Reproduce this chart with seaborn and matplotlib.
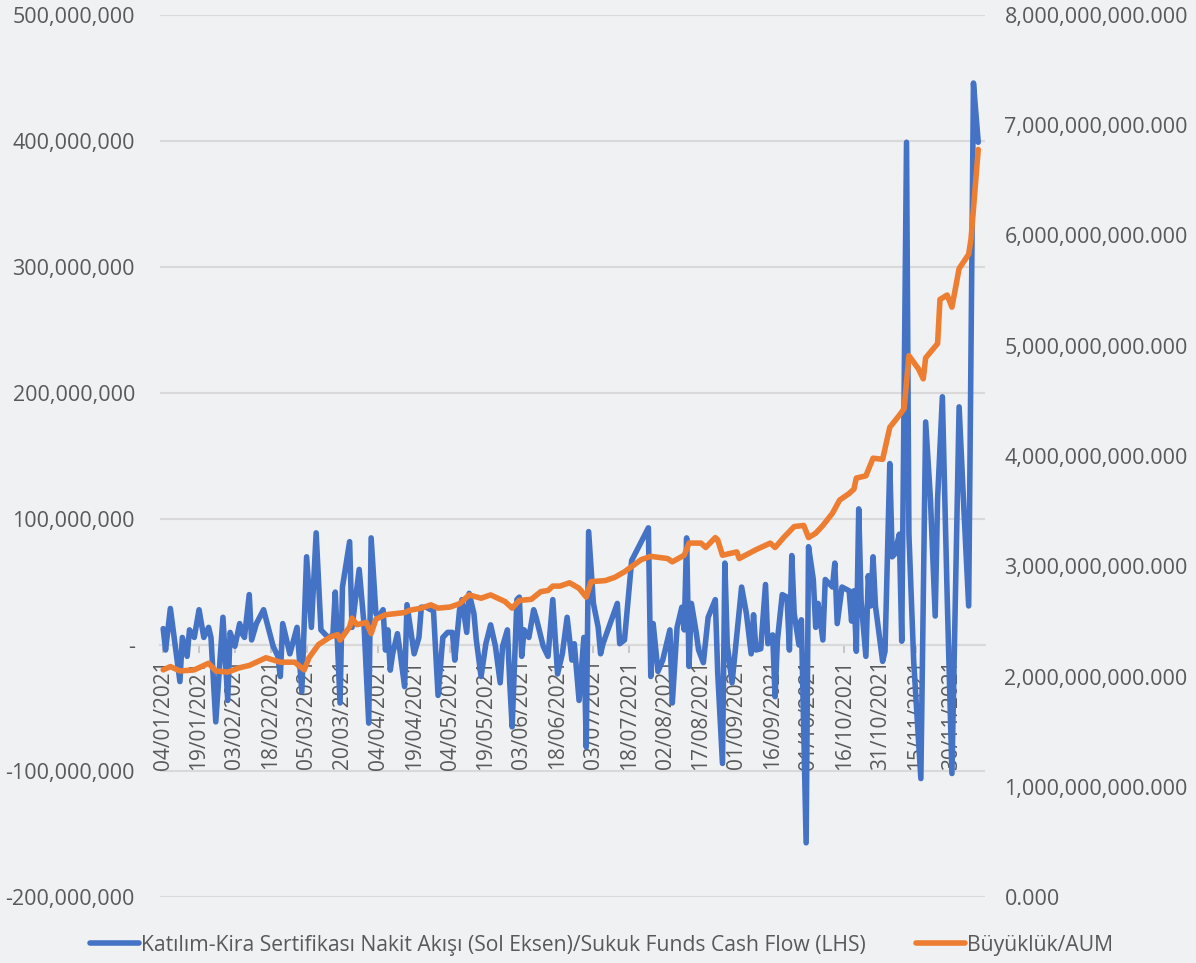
import numpy as np
import pandas as pd
import matplotlib
matplotlib.use('Agg')
import matplotlib.pyplot as plt
import matplotlib.ticker as mticker
import seaborn as sns

# ── data ──────────────────────────────────────────────────────
# cash flow, million TL (left axis)
flow_dates = [
    '2021-01-04', '2021-01-05', '2021-01-07', '2021-01-11', '2021-01-12', '2021-01-14', '2021-01-15',
    '2021-01-17', '2021-01-19', '2021-01-21', '2021-01-23', '2021-01-24', '2021-01-26', '2021-01-29',
    '2021-01-31', '2021-02-01', '2021-02-03', '2021-02-05', '2021-02-06', '2021-02-07', '2021-02-09',
    '2021-02-10', '2021-02-12', '2021-02-15', '2021-02-19', '2021-02-21', '2021-02-22', '2021-02-23',
    '2021-02-26', '2021-03-01', '2021-03-03', '2021-03-05', '2021-03-07', '2021-03-09', '2021-03-11',
    '2021-03-14', '2021-03-16', '2021-03-17', '2021-03-19', '2021-03-20', '2021-03-23', '2021-03-24',
    '2021-03-27', '2021-03-29', '2021-03-31', '2021-04-01', '2021-04-03', '2021-04-04', '2021-04-06',
    '2021-04-07', '2021-04-08', '2021-04-09', '2021-04-10', '2021-04-12', '2021-04-13', '2021-04-15',
    '2021-04-16', '2021-04-18', '2021-04-19', '2021-04-21', '2021-04-22', '2021-04-24', '2021-04-26',
    '2021-04-27', '2021-04-29', '2021-05-01', '2021-05-03', '2021-05-05', '2021-05-06', '2021-05-08',
    '2021-05-09', '2021-05-11', '2021-05-12', '2021-05-14', '2021-05-15', '2021-05-17', '2021-05-19',
    '2021-05-21', '2021-05-23', '2021-05-25', '2021-05-26', '2021-05-28', '2021-05-29', '2021-05-30',
    '2021-06-01', '2021-06-02', '2021-06-03', '2021-06-04', '2021-06-05', '2021-06-06', '2021-06-08',
    '2021-06-09', '2021-06-12', '2021-06-14', '2021-06-16', '2021-06-18', '2021-06-20', '2021-06-22',
    '2021-06-24', '2021-06-25', '2021-06-27', '2021-06-29', '2021-06-30', '2021-07-01', '2021-07-03',
    '2021-07-05', '2021-07-06', '2021-07-07', '2021-07-13', '2021-07-14', '2021-07-16', '2021-07-19',
    '2021-07-26', '2021-07-27', '2021-07-28', '2021-07-30', '2021-08-01', '2021-08-04', '2021-08-05',
    '2021-08-07', '2021-08-09', '2021-08-10', '2021-08-11', '2021-08-12', '2021-08-13', '2021-08-15',
    '2021-08-16', '2021-08-18', '2021-08-20', '2021-08-23', '2021-08-24', '2021-08-26', '2021-08-27',
    '2021-08-28', '2021-08-30', '2021-09-03', '2021-09-05', '2021-09-07', '2021-09-08', '2021-09-09',
    '2021-09-11', '2021-09-13', '2021-09-14', '2021-09-16', '2021-09-17', '2021-09-18', '2021-09-20',
    '2021-09-22', '2021-09-23', '2021-09-24', '2021-09-25', '2021-09-27', '2021-09-28', '2021-09-30',
    '2021-10-01', '2021-10-03', '2021-10-04', '2021-10-05', '2021-10-07', '2021-10-08', '2021-10-09',
    '2021-10-11', '2021-10-12', '2021-10-13', '2021-10-15', '2021-10-17', '2021-10-18', '2021-10-19',
    '2021-10-20', '2021-10-21', '2021-10-22', '2021-10-23', '2021-10-25', '2021-10-26', '2021-10-27',
    '2021-10-28', '2021-10-29', '2021-11-01', '2021-11-02', '2021-11-04', '2021-11-05', '2021-11-06',
    '2021-11-08', '2021-11-09', '2021-11-11', '2021-11-12', '2021-11-14', '2021-11-17', '2021-11-19',
    '2021-11-21', '2021-11-23', '2021-11-24', '2021-11-26', '2021-11-28', '2021-11-30', '2021-12-03',
    '2021-12-05', '2021-12-07', '2021-12-09', '2021-12-11',
]
flow_mn = [
    13, -4, 29, -29, 6, -9, 12,
    6, 28, 6, 14, 6, -61, 22,
    -44, 10, -1, 17, 9, 6, 40,
    4, 17, 28, -1, -9, -25, 17,
    -7, 14, -37, 70, 14, 89, 12,
    6, 8, 42, -46, 46, 82, 14,
    60, 17, -62, 85, 25, 22, 28,
    -4, 12, -20, -7, 9, -4, -33,
    32, 6, -7, 6, 30, 30, 28,
    30, -40, 6, 10, 10, -12, 28,
    36, 10, 41, 25, 4, -25, 1,
    16, -1, -30, -1, 12, -30, -65,
    36, 38, -9, 12, 9, 6, 28,
    22, -1, -9, 36, -23, -7, 22,
    -12, 1, -44, 6, -81, 90, 33,
    14, -7, 1, 33, 1, 4, 67,
    93, -25, 17, -21, -12, 12, -46,
    14, 30, 12, 85, -17, 33, 10,
    -4, -14, 22, 36, -22, -94, 65,
    0, -30, 46, 25, -7, 24, -4,
    -3, 48, 1, 8, -41, 4, 40,
    38, -4, 71, 25, 0, 20, -157,
    78, 52, 14, 33, 4, 52, 50,
    46, 65, 17, 46, 44, 43, 19,
    43, -5, 108, 35, -9, 55, 31,
    70, 31, -13, -5, 144, 70, 72,
    88, 3, 399, 88, -13, -106, 177,
    116, 23, 116, 197, 39, -102, 189,
    108, 31, 446, 399,
]

# fund size, billion TL (right axis)
aum_dates = [
    '2021-01-04', '2021-01-07', '2021-01-11', '2021-01-17', '2021-01-23', '2021-01-26', '2021-01-31',
    '2021-02-05', '2021-02-09', '2021-02-16', '2021-02-22', '2021-02-28', '2021-03-04', '2021-03-06',
    '2021-03-10', '2021-03-15', '2021-03-18', '2021-03-19', '2021-03-23', '2021-03-24', '2021-03-26',
    '2021-03-30', '2021-04-01', '2021-04-03', '2021-04-07', '2021-04-15', '2021-04-17', '2021-04-22',
    '2021-04-26', '2021-04-29', '2021-05-04', '2021-05-08', '2021-05-12', '2021-05-17', '2021-05-21',
    '2021-05-27', '2021-05-30', '2021-06-02', '2021-06-07', '2021-06-11', '2021-06-14', '2021-06-16',
    '2021-06-19', '2021-06-23', '2021-06-27', '2021-06-30', '2021-07-02', '2021-07-08', '2021-07-12',
    '2021-07-16', '2021-07-23', '2021-07-27', '2021-08-03', '2021-08-05', '2021-08-10', '2021-08-12',
    '2021-08-17', '2021-08-19', '2021-08-23', '2021-08-24', '2021-08-26', '2021-09-01', '2021-09-02',
    '2021-09-09', '2021-09-15', '2021-09-17', '2021-09-21', '2021-09-25', '2021-09-29', '2021-10-01',
    '2021-10-04', '2021-10-07', '2021-10-11', '2021-10-14', '2021-10-18', '2021-10-20', '2021-10-21',
    '2021-10-25', '2021-10-28', '2021-11-01', '2021-11-04', '2021-11-08', '2021-11-10', '2021-11-12',
    '2021-11-16', '2021-11-18', '2021-11-19', '2021-11-24', '2021-11-25', '2021-11-28', '2021-11-30',
    '2021-12-03', '2021-12-07', '2021-12-08', '2021-12-11',
]
aum_bn = [
    2.06, 2.09, 2.05, 2.06, 2.12, 2.05, 2.04,
    2.08, 2.10, 2.17, 2.13, 2.13, 2.06, 2.17,
    2.29, 2.36, 2.38, 2.33, 2.45, 2.53, 2.47,
    2.49, 2.39, 2.52, 2.56, 2.58, 2.60, 2.62,
    2.65, 2.62, 2.63, 2.66, 2.74, 2.71, 2.74,
    2.68, 2.62, 2.69, 2.70, 2.77, 2.78, 2.82,
    2.82, 2.85, 2.80, 2.72, 2.86, 2.87, 2.90,
    2.95, 3.06, 3.09, 3.07, 3.04, 3.10, 3.21,
    3.21, 3.17, 3.26, 3.24, 3.10, 3.13, 3.07,
    3.15, 3.21, 3.17, 3.27, 3.36, 3.37, 3.26,
    3.30, 3.37, 3.48, 3.60, 3.66, 3.70, 3.80,
    3.82, 3.98, 3.97, 4.26, 4.37, 4.43, 4.91,
    4.79, 4.70, 4.89, 5.02, 5.42, 5.46, 5.35,
    5.70, 5.83, 5.97, 6.78,
]

flow_label = 'Katılım-Kira Sertifikası Nakit Akışı (Sol Eksen)/Sukuk Funds Cash Flow (LHS)'
aum_label = 'Büyüklük/AUM'

BLUE = '#4472C4'
ORANGE = '#ED7D31'
TXT = '#595959'
GRID = '#d9d9d9'
BG = '#f0f1f3'

df_flow = pd.DataFrame({'date': pd.to_datetime(flow_dates),
                        'flow': np.array(flow_mn) * 1e6})
df_aum = pd.DataFrame({'date': pd.to_datetime(aum_dates),
                       'aum': np.array(aum_bn) * 1e9})

# ── figure ───────────────────────────────────────────────────
sns.set_theme(style='white')
plt.rcParams['font.family'] = ['Open Sans', 'DejaVu Sans']

fig = plt.figure(figsize=(11.96, 9.63), dpi=100, facecolor=BG)
ax = fig.add_axes([160 / 1196, 1 - 897 / 963, 825 / 1196, 882 / 963])
ax.set_facecolor('none')
ax2 = ax.twinx()
ax2.set_facecolor('none')

sns.lineplot(data=df_flow, x='date', y='flow', ax=ax, color=BLUE, lw=4,
             label=flow_label, legend=False)
sns.lineplot(data=df_aum, x='date', y='aum', ax=ax2, color=ORANGE, lw=4,
             label=aum_label, legend=False)

for a in (ax, ax2):
    for s in a.spines.values():
        s.set_visible(False)
    a.set_xlabel('')
    a.set_ylabel('')

# category axis crosses the left axis at zero (set before the tick labels,
# set_position resets them)
ax.spines['bottom'].set_visible(True)
ax.spines['bottom'].set_position(('data', 0))
ax.spines['bottom'].set_color(GRID)
ax.spines['bottom'].set_linewidth(1.5)

ax.set_ylim(-200e6, 500e6)
ax.yaxis.set_major_locator(mticker.MultipleLocator(100e6))
ax.yaxis.set_major_formatter(mticker.FuncFormatter(
    lambda v, p: '-' if abs(v) < 1 else f'{v:,.0f}'))
ax2.set_ylim(0, 8e9)
ax2.yaxis.set_major_locator(mticker.MultipleLocator(1e9))
ax2.yaxis.set_major_formatter(mticker.FuncFormatter(lambda v, p: f'{v:,.3f}'))

ax.set_xlim(pd.Timestamp('2021-01-02 16:00'), pd.Timestamp('2021-12-13 20:00'))
ticks = pd.date_range('2021-01-04', '2021-12-10', freq='15D')
ax.set_xticks(ticks)
ax.set_xticklabels([t.strftime('%d/%m/%Y') for t in ticks], rotation=90,
                   fontsize=15, color=TXT, ha='center', va='top')

ax.grid(axis='y', color=GRID, lw=1.5)
ax.grid(axis='x', visible=False)
ax2.grid(False)
ax.set_axisbelow(True)

ax.tick_params(axis='x', which='major', direction='out', length=6, width=1.2,
               color='#bfbfbf', pad=4, bottom=True)
ax.tick_params(axis='y', length=0, labelsize=15.5, labelcolor=TXT, pad=18)
ax2.tick_params(axis='y', length=0, labelsize=15.5, labelcolor=TXT, pad=14)

# lines above tick labels
ax.xaxis.set_zorder(1)
ax.get_lines()[0].set_zorder(3)

h1, l1 = ax.get_legend_handles_labels()
h2, l2 = ax2.get_legend_handles_labels()
fig.legend(h1 + h2, l1 + l2, loc='center', bbox_to_anchor=(0.503, 1 - 945 / 963),
           ncol=2, frameon=False, fontsize=15.2, labelcolor=TXT,
           handlelength=2.3, handletextpad=0.1, columnspacing=2.4)

plt.savefig('out.png', dpi=100, facecolor=BG)
